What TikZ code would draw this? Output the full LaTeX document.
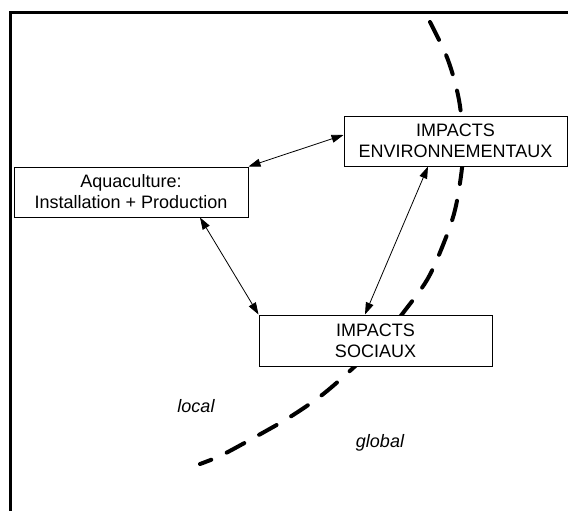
\documentclass[tikz,border=0pt]{standalone}
\usepackage{fontspec}
\setmainfont{Liberation Sans}
\usetikzlibrary{arrows.meta}
\begin{document}
\begin{tikzpicture}[x=1pt,y=-1pt,
  box/.style={draw,line width=1pt,fill=white,minimum width=#1,minimum height=50pt,inner sep=0pt,align=center,
    font=\fontsize{18}{21}\selectfont},
  link/.style={line width=0.8pt,{Triangle[length=12pt,width=8pt]}-{Triangle[length=12pt,width=8pt]}},
  zone/.style={font=\fontsize{18}{21}\selectfont\itshape}]
\useasboundingbox (0,0) rectangle (568,511);
\fill[white] (0,0) rectangle (568,511);
% frame
\draw[line width=3pt] (10.5,515) -- (10.5,13) -- (572,13);
% boundary curve
\draw[line width=4pt,line cap=round,dash pattern=on 20pt off 17pt]
  plot[smooth,tension=0.55] coordinates {(430,22) (448,60) (459,100) (463,140) (462,168) (455,210) (443,245) (427,280) (403,313) (380,342) (352,369) (322,395) (290,417) (257,436) (222,455) (200,464)};
% boxes
\node[box=234pt] (aqua) at (131,192) {Aquaculture:\\Installation + Production};
\node[box=223pt] (env) at (455.5,141) {IMPACTS\\ENVIRONNEMENTAUX};
\node[box=233pt,minimum height=51pt] (soc) at (375.5,340.5) {IMPACTS\\SOCIAUX};
% connectors
\draw[link] (aqua.north east) -- ([yshift=6pt]env.west);
\draw[link] ([xshift=69pt]aqua.south) -- (soc.north west);
\draw[link] ([xshift=-27.5pt]env.south) -- ([xshift=-10.5pt]soc.north);
% labels
\node[zone] (loc) at (196,406) {local};
\node[zone] (glob) at (380,443) {global};
\end{tikzpicture}
\end{document}
